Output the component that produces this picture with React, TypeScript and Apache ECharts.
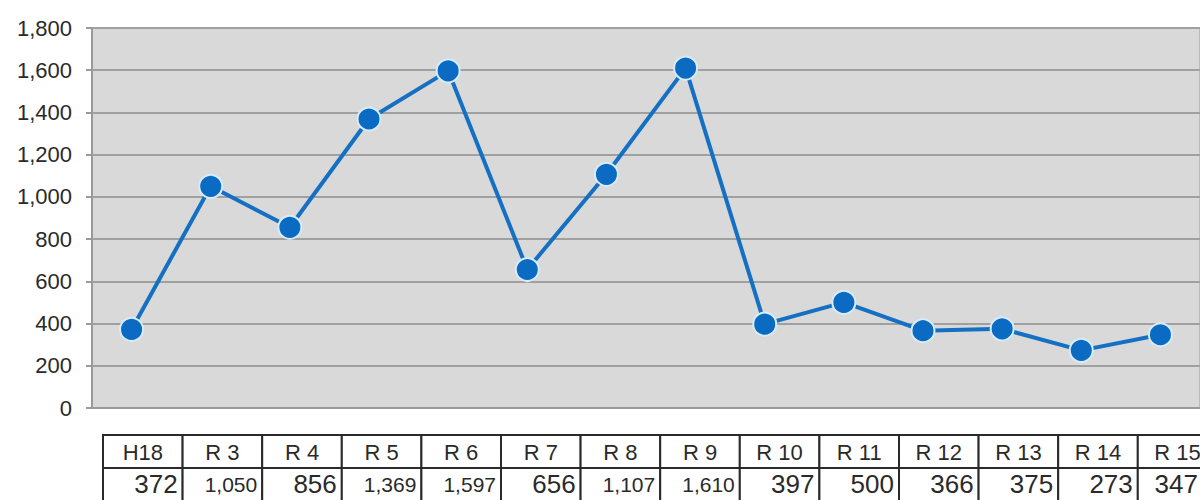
import React, { useEffect, useRef } from "react";
import * as echarts from "echarts";

// Fiscal periods and counts
const categories = ["H18", "R 3", "R 4", "R 5", "R 6", "R 7", "R 8", "R 9", "R 10", "R 11", "R 12", "R 13", "R 14", "R 15"];
const values = [372, 1050, 856, 1369, 1597, 656, 1107, 1610, 397, 500, 366, 375, 273, 347];
const yTicks = { min: 0, max: 1800, interval: 200 };

const FONT = "'Liberation Sans', Arial, sans-serif";
const fmt = (v: number) => v.toLocaleString("en-US");

function buildTable() {
  const x0 = 103;
  const colW = 79.6;
  const top = 435;
  const rowH = 33;
  const els: any[] = [];
  categories.forEach((c, i) => {
    const x = x0 + i * colW;
    els.push({
      type: "rect",
      shape: { x, y: top, width: colW, height: rowH },
      style: { fill: "#ffffff", stroke: "#2a2a2a", lineWidth: 2 },
    });
    els.push({
      type: "rect",
      shape: { x, y: top + rowH, width: colW, height: rowH + 4 },
      style: { fill: "#ffffff", stroke: "#2a2a2a", lineWidth: 2 },
    });
    els.push({
      type: "text",
      x: x + colW / 2,
      y: top + rowH / 2 + 1,
      style: {
        text: c,
        fontFamily: FONT,
        fontSize: 22,
        fill: "#2a2a2a",
        align: "center",
        verticalAlign: "middle",
      },
    });
    const v = values[i];
    const big = v < 1000;
    els.push({
      type: "text",
      // keep the value inside the page where the last column runs past the edge
      x: Math.min(x + colW - 5, 1198),
      y: top + rowH + 16,
      style: {
        text: fmt(v),
        fontFamily: FONT,
        fontSize: big ? 26 : 21,
        fill: "#2a2a2a",
        align: "right",
        verticalAlign: "middle",
      },
    });
  });
  return els;
}

export default function App() {
  const ref = useRef<HTMLDivElement>(null);

  useEffect(() => {
    document.body.style.margin = "0";
    const chart = echarts.init(ref.current!, undefined, { renderer: "svg" });
    chart.setOption({
      animation: false,
      backgroundColor: "#ffffff",
      grid: {
        left: 92,
        top: 28,
        right: -6,
        bottom: 92,
        show: true,
        backgroundColor: "#d9d9d9",
        borderColor: "#9a9a9a",
        borderWidth: 1,
      },
      xAxis: {
        type: "category",
        data: categories,
        boundaryGap: true,
        axisLine: { show: true, lineStyle: { color: "#9a9a9a", width: 2 } },
        axisTick: { show: false },
        axisLabel: { show: false },
        splitLine: { show: false },
      },
      yAxis: {
        type: "value",
        min: yTicks.min,
        max: yTicks.max,
        interval: yTicks.interval,
        axisLine: { show: true, lineStyle: { color: "#9a9a9a", width: 2 } },
        axisTick: { show: true, length: 6, lineStyle: { color: "#9a9a9a", width: 2 } },
        axisLabel: {
          margin: 20,
          fontFamily: FONT,
          fontSize: 22,
          color: "#2a2a2a",
          formatter: (v: number) => fmt(v),
        },
        splitLine: { show: true, lineStyle: { color: "#a0a0a0", width: 2 } },
      },
      series: [
        {
          type: "line",
          data: values,
          symbol: "circle",
          symbolSize: 23,
          lineStyle: { color: "#1570c4", width: 4 },
          itemStyle: { color: "#0b6bc3", borderColor: "#d6ecf8", borderWidth: 2 },
          z: 3,
        },
      ],
      graphic: buildTable(),
    });
    return () => chart.dispose();
  }, []);

  return <div ref={ref} style={{ width: 1200, height: 500 }} />;
}
